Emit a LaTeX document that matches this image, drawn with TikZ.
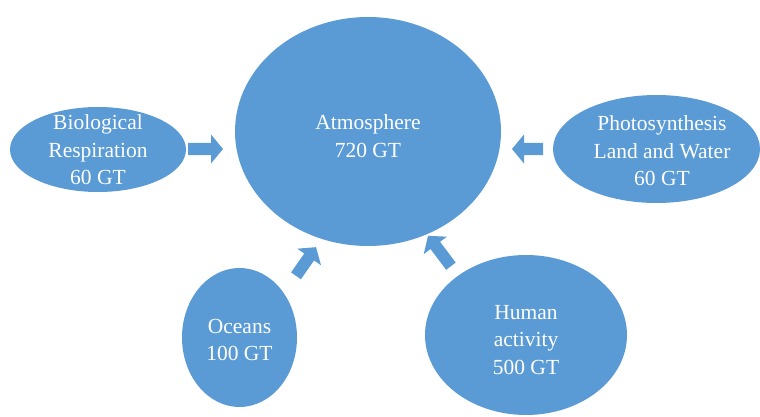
\documentclass[tikz,border=0pt]{standalone}
\usepackage{fontspec}
\setmainfont{Liberation Serif}
\usetikzlibrary{shapes.geometric}
\definecolor{poolblue}{HTML}{5B9BD5}
\tikzset{
  pool/.style={ellipse, fill=poolblue, inner sep=0pt},
  pooltext/.style={text=white, align=center, inner sep=0pt, font=\rmfamily\fontsize{21.5}{27.5}\selectfont},
  pics/flowarrow/.style={code={
    \fill[poolblue] (-#1/2,-6) -- (#1/2-12,-6) -- (#1/2-12,-14.5) -- (#1/2,0)
      -- (#1/2-12,14.5) -- (#1/2-12,6) -- (-#1/2,6) -- cycle;
  }}
}
\begin{document}
\begin{tikzpicture}[x=1pt,y=-1pt]
\useasboundingbox (0,0) rectangle (760,417);
% carbon pools
\node[pool, minimum width=266pt, minimum height=229pt] (atmos) at (368,131.5) {};
\node[pool, minimum width=176pt, minimum height=85pt] (bio) at (98,149.5) {};
\node[pool, minimum width=207pt, minimum height=108pt] (photo) at (656.5,149) {};
\node[pool, minimum width=115pt, minimum height=139pt] (ocean) at (239.5,337.5) {};
\node[pool, minimum width=202pt, minimum height=160pt] (human) at (526,335) {};
\node[pooltext] (atmostext) at (368,136) {Atmosphere\\720 GT};
\node[pooltext] (biotext) at (98,150) {Biological\\Respiration\\60 GT};
\node[pooltext] (phototext) at (662,151) {Photosynthesis\\Land and Water\\60 GT};
\node[pooltext] (oceantext) at (239.5,340) {Oceans\\100 GT};
\node[pooltext] (humantext) at (526,340) {Human\\activity\\500 GT};
% flows into the atmosphere
\pic (bioflow) at (205.5,149) {flowarrow=35};
\pic[rotate=180] (photoflow) at (527.5,149) {flowarrow=31};
\pic[rotate=55] (oceanflow) at (306,261.5) {flowarrow=35};
\pic[rotate=127] (humanflow) at (439.5,251) {flowarrow=38};
\end{tikzpicture}
\end{document}
